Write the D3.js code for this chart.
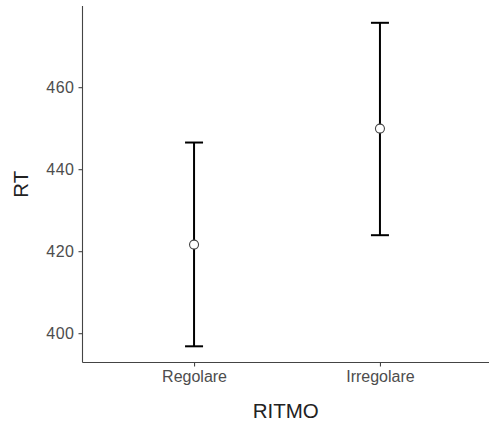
<!DOCTYPE html>
<html>
<head>
<meta charset="utf-8">
<script src="https://cdn.jsdelivr.net/npm/d3@7"></script>
<style>
    body { margin: 0; background: #fff; }
    svg { display: block; font-family: "Liberation Sans", Arial, sans-serif; }
</style>
</head>
<body>
<svg id="chart"></svg>
<script>
// data
const categories = ["Regolare", "Irregolare"];
const means = [421.6, 449.9];
const lower = [396.8, 423.9];
const upper = [446.5, 475.7];
const yTicks = [400, 420, 440, 460];

const dim = { width: 489, height: 426 };
const plot = { left: 82.5, right: 491.5, top: 6, bottom: 362.5 };

const svg = d3.select("#chart")
    .attr("width", dim.width)
    .attr("height", dim.height);

const xScale = d3.scalePoint()
    .domain(categories)
    .range([plot.left, plot.right])
    .padding(0.6);

const yScale = d3.scaleLinear()
    .domain([392.85, 479.8])
    .range([plot.bottom, plot.top]);

const xAxis = d3.axisBottom(xScale).tickSize(4).tickPadding(4);
const yAxis = d3.axisLeft(yScale).tickValues(yTicks).tickSize(4).tickPadding(4);

const gx = svg.append("g")
    .attr("transform", "translate(0," + plot.bottom + ")")
    .call(xAxis);
const gy = svg.append("g")
    .attr("transform", "translate(" + plot.left + ",0)")
    .call(yAxis);

[gx, gy].forEach(function(g) {
    g.attr("font-size", null).attr("font-family", null);
    g.select(".domain").attr("stroke", "#444").attr("stroke-width", 1.1);
    g.selectAll(".tick line").attr("stroke", "#444").attr("stroke-width", 1.1);
    g.selectAll(".tick text")
        .attr("fill", "#4d4d4d")
        .style("font-size", "16px");
});
gy.selectAll(".tick text").style("letter-spacing", "0.5px");
gy.select(".domain").attr("d", "M0," + plot.bottom + "V" + plot.top);
gx.select(".domain").attr("d", "M" + plot.left + ",0H" + plot.right);

const rows = categories.map(function(c, i) {
    return { cat: c, mean: means[i], lo: lower[i], hi: upper[i] };
});

const capW = 9;
const bars = svg.append("g").selectAll("g")
    .data(rows)
    .join("g");

bars.append("line")
    .attr("x1", d => xScale(d.cat)).attr("x2", d => xScale(d.cat))
    .attr("y1", d => yScale(d.lo)).attr("y2", d => yScale(d.hi))
    .attr("stroke", "#000").attr("stroke-width", 2);
bars.append("line")
    .attr("x1", d => xScale(d.cat) - capW).attr("x2", d => xScale(d.cat) + capW)
    .attr("y1", d => yScale(d.hi)).attr("y2", d => yScale(d.hi))
    .attr("stroke", "#000").attr("stroke-width", 2);
bars.append("line")
    .attr("x1", d => xScale(d.cat) - capW).attr("x2", d => xScale(d.cat) + capW)
    .attr("y1", d => yScale(d.lo)).attr("y2", d => yScale(d.lo))
    .attr("stroke", "#000").attr("stroke-width", 2);
bars.append("circle")
    .attr("cx", d => xScale(d.cat))
    .attr("cy", d => yScale(d.mean))
    .attr("r", 4.5)
    .attr("fill", "#fff")
    .attr("stroke", "#444")
    .attr("stroke-width", 1.1);

svg.append("text")
    .attr("x", (plot.left + 489) / 2)
    .attr("y", 418)
    .attr("text-anchor", "middle")
    .style("font-size", "20.5px")
    .attr("fill", "#222")
    .text("RITMO");

svg.append("text")
    .attr("transform", "translate(28," + ((plot.top + plot.bottom) / 2) + ") rotate(-90)")
    .attr("text-anchor", "middle")
    .style("font-size", "20.5px")
    .attr("fill", "#222")
    .text("RT");
</script>
</body>
</html>
